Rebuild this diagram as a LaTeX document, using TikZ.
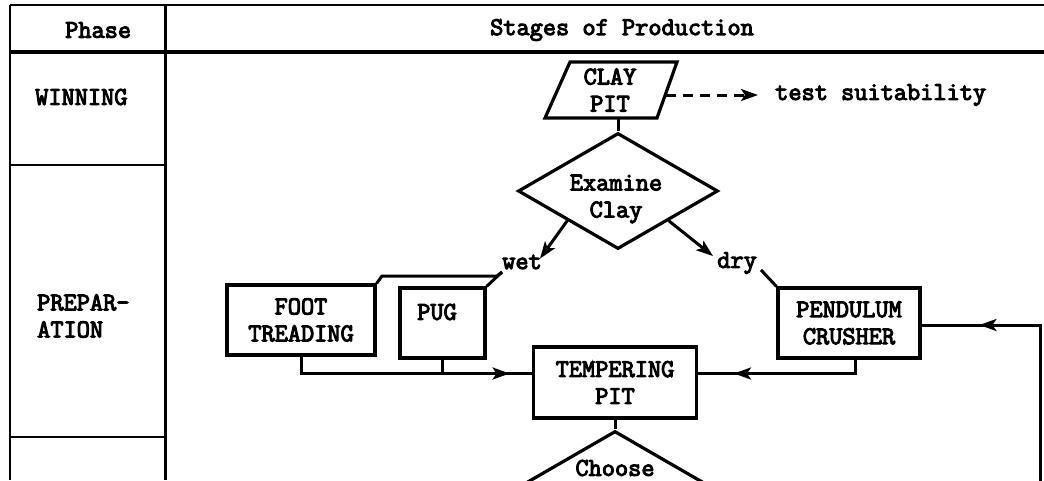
\documentclass[tikz,border=0pt]{standalone}
\usepackage{fontspec}
\newfontfamily\twfont{Latin Modern Mono}[FakeBold=4]
\usetikzlibrary{shapes.geometric,arrows.meta,decorations.markings,calc}
\begin{document}
\begin{tikzpicture}[x=1pt,y=-1pt,
  every node/.style={font=\twfont\fontsize{25.6}{27}\selectfont, inner sep=0pt},
  box/.style={draw, line width=3.2pt, rectangle},
  dmd/.style={draw, line width=3.2pt, diamond, aspect=1.72, minimum width=200pt, minimum height=116pt},
  conn/.style={line width=3pt},
  tip/.style={-{Stealth[length=17pt,width=12pt,inset=4pt]}},
  midtip/.style={postaction={decorate}, decoration={markings, mark=at position #1 with {\arrow{Stealth[length=17pt,width=12pt,inset=4pt]}}}},
  tbl/.style={line width=2.3pt}]
\useasboundingbox (0,0) rectangle (1044,480);
\clip (0,0) rectangle (1044,480);
% table
\draw[tbl] (10,5) -- (1044,5);
\draw[tbl] (10,5) -- (10,480);
\draw[line width=3pt] (165,5) -- (165,480);
\draw[line width=3.2pt] (10,52) -- (1044,52);
\draw[tbl] (10,165) -- (165,165);
\draw[tbl] (10,437) -- (165,437);
\node[anchor=west] (hphase) at (65,30) {Phase};
\node (hstages) at (622,30) {Stages of Production};
\node[anchor=west] (pwin) at (35,97) {WINNING};
\node[anchor=west, align=left] (pprep) at (37,316) {PREPAR-\\ATION};
% clay pit
\draw[line width=3.2pt] (570,62) -- (677,62) -- (657,118) -- (545,118) -- cycle;
\node[align=center] (claypit) at (610,90) {CLAY\\PIT};
\coordinate (cpb) at (618,118);
\coordinate (cpr) at (666,95);
\node[anchor=west] (test) at (775,95) {test suitability};
\draw[conn, dash pattern=on 10pt off 7pt, tip, shorten >=17pt] (cpr) -- (test.west);
% examine
\node[dmd] (exam) at (618,191) {};
\node[align=center] (examt) at (616,199) {Examine\\Clay};
\draw[conn] (cpb) -- (exam.north);
% wet / dry
\node (wet) at (522,262) {wet};
\node (dry) at (737,263) {dry};
\draw[conn, tip] (exam.south west) -- ([shift={(-2pt,-4pt)}]wet.north east);
\draw[conn, tip] (exam.south east) -- ([shift={(-4pt,-4pt)}]dry.north west);
\coordinate (wj) at (502,272);
% boxes
\node[box, minimum width=148pt, minimum height=70pt, align=center] (foot) at (301,320) {FOOT\\TREADING};
\node[box, minimum width=85pt, minimum height=70pt] (pug) at (442.5,323) {};
\node (pugt) at (437,312) {PUG};
\node[box, minimum width=142pt, minimum height=70pt, align=center] (pend) at (849,323) {PENDULUM\\CRUSHER};
\node[box, minimum width=163pt, minimum height=71pt, align=center] (temper) at (615,382.5) {TEMPERING\\PIT};
\draw[conn] (wj) -- (pug.north east);
\draw[conn] (wj) -- (497,276) -- (382,276) -- (foot.north east);
\draw[conn] ([shift={(4pt,4pt)}]dry.south east) -- (pend.north west);
% to tempering
\coordinate (lineL) at ([yshift=9pt]temper.west);
\coordinate (lineR) at ([yshift=9pt]temper.east);
\draw[conn, midtip=0.91] (foot.south) |- (lineL);
\draw[conn] (pug.south) -- (pug.south |- lineL);
\draw[conn, midtip=0.79] ([xshift=6pt]pend.south) |- (lineR);
\coordinate (fb) at (1040,482);
\draw[conn, midtip=0.79] (fb) |- ([yshift=-2pt]pend.east);
% choose
\node[dmd] (choose) at (615,489) {};
\node (chooset) at (615,468) {Choose};
\draw[conn] (temper.south) -- (choose.north);
\end{tikzpicture}
\end{document}
